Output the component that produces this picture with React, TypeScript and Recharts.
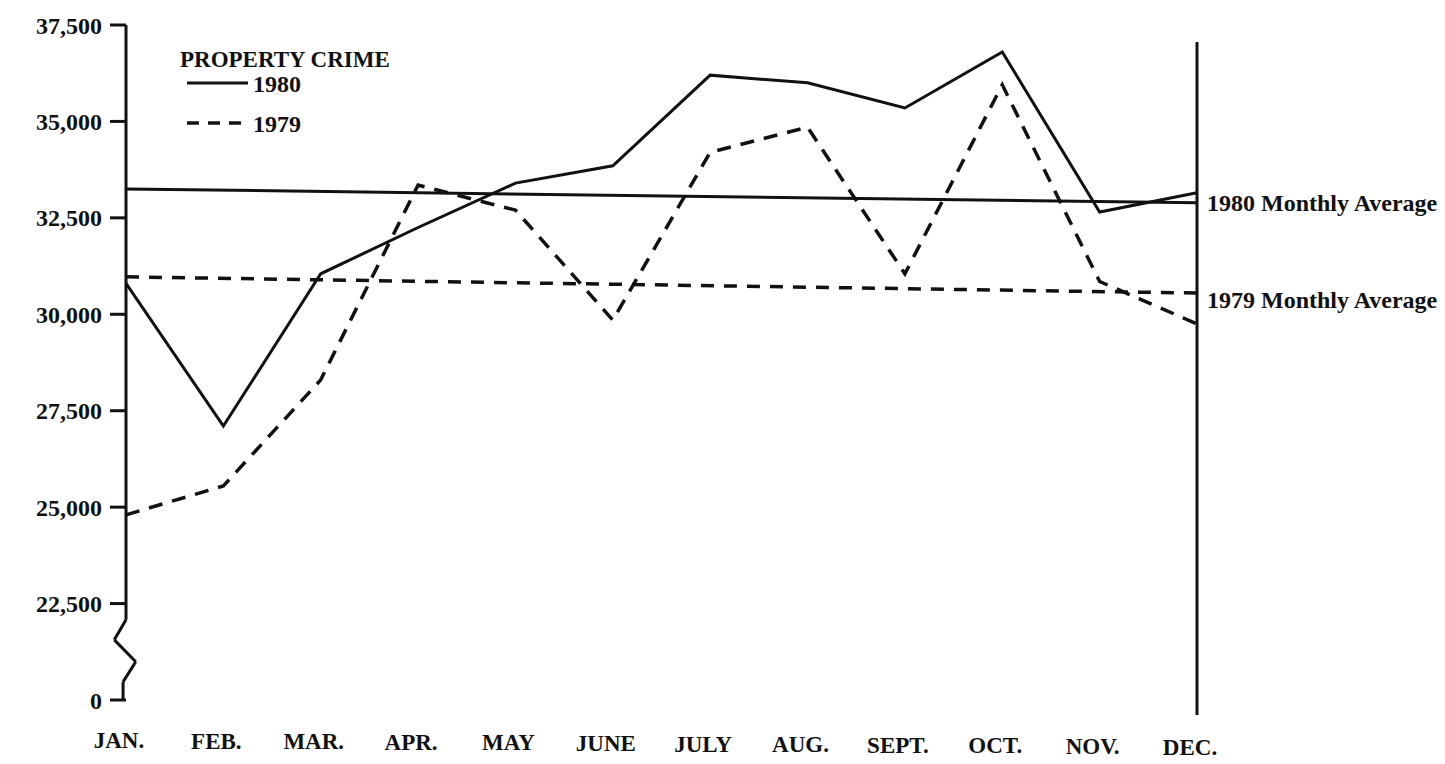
import React from "react";
import {
  LineChart,
  Line,
  XAxis,
  YAxis,
  ReferenceLine,
  ReferenceDot,
  Legend,
} from "recharts";

const MONTHS = ["JAN.", "FEB.", "MAR.", "APR.", "MAY", "JUNE", "JULY", "AUG.", "SEPT.", "OCT.", "NOV.", "DEC."];
const CRIME_1980 = [30800, 27100, 31050, 32250, 33400, 33850, 36200, 36000, 35350, 36800, 32650, 33150];
const CRIME_1979 = [24800, 25550, 28300, 33350, 32700, 29850, 34200, 34850, 31050, 35950, 30850, 29750];

// monthly average lines as printed (start of Jan, end of Dec)
const AVG_1980 = [33250, 32890];
const AVG_1979 = [30970, 30550];

const Y_TICKS = [20000, 22500, 25000, 27500, 30000, 32500, 35000, 37500];
const Y_TICK_LABELS = ["0", "22,500", "25,000", "27,500", "30,000", "32,500", "35,000", "37,500"];

// broken axis between 22,500 and 0 (month units, crime units)
const AXIS_BREAK = [
  { x: 0, y: 22080 },
  { x: -0.12, y: 21560 },
  { x: 0.1, y: 20990 },
  { x: -0.03, y: 20470 },
  { x: -0.03, y: 20000 },
];

const FONT = "'Liberation Serif', 'DejaVu Serif', serif";
const INK = "#111";

const data = MONTHS.map((m, i) => ({ i, month: m, y1980: CRIME_1980[i], y1979: CRIME_1979[i] }));

function MonthTick({ x, y, payload, index }: any) {
  return (
    <text
      x={x - 7}
      y={y + 40 + index * 0.6}
      textAnchor="middle"
      fontFamily={FONT}
      fontWeight="bold"
      fontSize={23}
      fill={INK}
    >
      {MONTHS[payload.value]}
    </text>
  );
}

function LegendBox() {
  return (
    <svg width={260} height={110} style={{ display: "block" }}>
      <text x={5} y={27} fontFamily={FONT} fontWeight="bold" fontSize={23} fill={INK}>
        PROPERTY CRIME
      </text>
      <line x1={12} y1={43} x2={73} y2={43} stroke={INK} strokeWidth={3} />
      <text x={78} y={52} fontFamily={FONT} fontWeight="bold" fontSize={24} fill={INK}>
        1980
      </text>
      <line x1={12} y1={83} x2={73} y2={83} stroke={INK} strokeWidth={3.5} strokeDasharray="12 9" />
      <text x={78} y={92} fontFamily={FONT} fontWeight="bold" fontSize={24} fill={INK}>
        1979
      </text>
    </svg>
  );
}

export default function App() {
  const labelStyle = { fontFamily: FONT, fontWeight: "bold", fontSize: 24, fill: INK };
  return (
    <div style={{ position: "absolute", left: 0, top: 0, width: 1445, height: 764, background: "#fff" }}>
      <LineChart
        width={1445}
        height={764}
        data={data}
        margin={{ top: 25, right: 248, bottom: 0, left: 0 }}
        style={{ fontFamily: FONT }}
      >
        <XAxis
          dataKey="i"
          type="number"
          domain={[0, 11]}
          ticks={MONTHS.map((_, i) => i)}
          axisLine={false}
          tickLine={false}
          height={64}
          tick={<MonthTick />}
          interval={0}
        />
        <YAxis
          type="number"
          domain={[20000, 37500]}
          ticks={Y_TICKS}
          tickFormatter={(v: number) => Y_TICK_LABELS[Y_TICKS.indexOf(v)]}
          width={126}
          axisLine={false}
          tickSize={16}
          tickMargin={8}
          tickLine={{ stroke: INK, strokeWidth: 3 }}
          tick={{ fill: INK, fontSize: 24, fontWeight: "bold", fontFamily: FONT }}
          interval={0}
        />

        <ReferenceLine
          segment={[{ x: 0, y: 37500 }, AXIS_BREAK[0]]}
          stroke={INK}
          strokeWidth={3}
          ifOverflow="visible"
        />
        {AXIS_BREAK.slice(1).map((p, k) => (
          <ReferenceLine
            key={k}
            segment={[AXIS_BREAK[k], p]}
            stroke={INK}
            strokeWidth={3}
            ifOverflow="visible"
          />
        ))}
        <ReferenceLine
          segment={[{ x: 11, y: 37060 }, { x: 11, y: 19610 }]}
          stroke={INK}
          strokeWidth={3}
          ifOverflow="visible"
        />

        <ReferenceLine
          segment={[{ x: 0, y: AVG_1980[0] }, { x: 11, y: AVG_1980[1] }]}
          stroke={INK}
          strokeWidth={3}
          ifOverflow="visible"
        />
        <ReferenceLine
          segment={[{ x: 0, y: AVG_1979[0] }, { x: 11, y: AVG_1979[1] }]}
          stroke={INK}
          strokeWidth={3.5}
          strokeDasharray="13 10"
          ifOverflow="visible"
        />
        <ReferenceDot
          x={11}
          y={AVG_1980[1]}
          r={0}
          ifOverflow="visible"
          label={{ value: "1980 Monthly Average", position: "right", offset: 10, ...labelStyle }}
        />
        <ReferenceDot
          x={11}
          y={AVG_1979[1]}
          r={0}
          ifOverflow="visible"
          label={{ value: "1979 Monthly Average", position: "right", offset: 10, dy: 6, ...labelStyle }}
        />

        <Line
          dataKey="y1980"
          type="linear"
          stroke={INK}
          strokeWidth={3}
          dot={false}
          isAnimationActive={false}
        />
        <Line
          dataKey="y1979"
          type="linear"
          stroke={INK}
          strokeWidth={3.5}
          strokeDasharray="14 10"
          dot={false}
          isAnimationActive={false}
        />

        <Legend
          layout="vertical"
          align="center"
          verticalAlign="middle"
          content={() => <LegendBox />}
          wrapperStyle={{ left: 175, top: 40, width: 260, height: 110 }}
        />
      </LineChart>
    </div>
  );
}
